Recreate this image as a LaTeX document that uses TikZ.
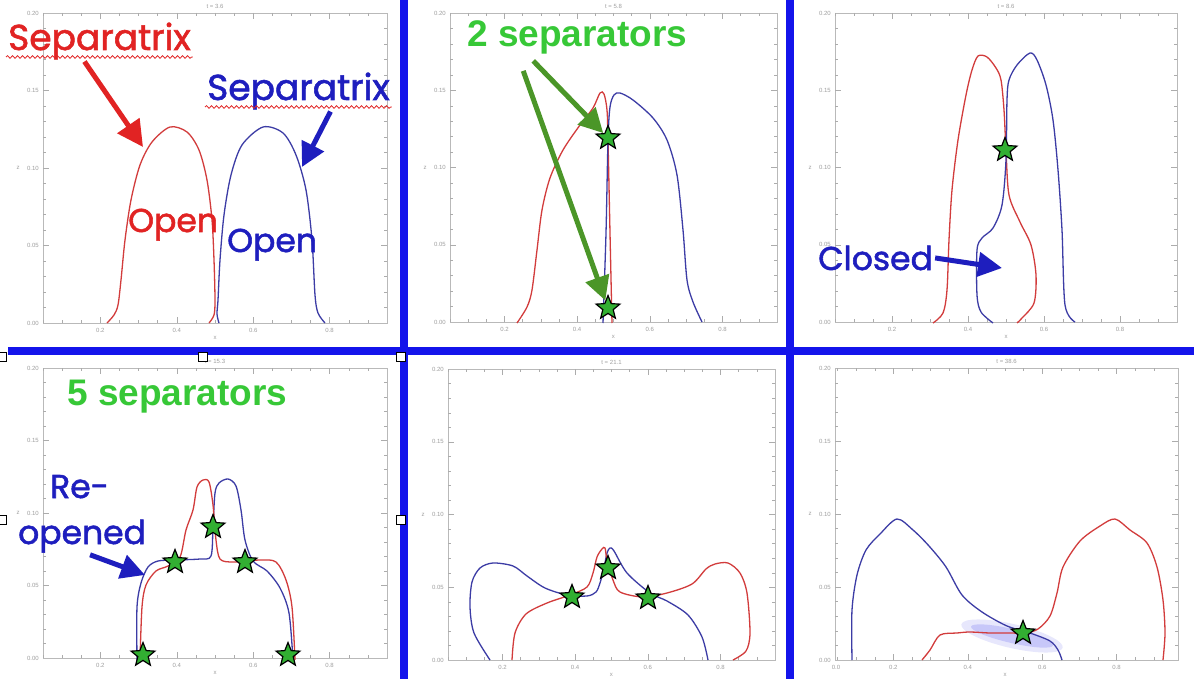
\documentclass[tikz,border=0pt]{standalone}
\usepackage{fontspec}
\setmainfont{Liberation Sans}
\newfontfamily\comicfont{Poppins}[UprightFeatures={FakeBold=1.6}]
\usetikzlibrary{arrows.meta,shapes.geometric,decorations.pathmorphing}

\definecolor{lblred}{RGB}{225,35,35}
\definecolor{lblblue}{RGB}{30,30,190}
\definecolor{gridblue}{RGB}{20,20,235}
\definecolor{lblgreen}{RGB}{55,200,55}
\definecolor{arrgreen}{RGB}{75,150,40}
\definecolor{starfill}{RGB}{50,175,50}
\definecolor{curvered}{RGB}{210,60,60}
\definecolor{curveblue}{RGB}{60,60,165}

\begin{document}
\begin{tikzpicture}[x=1pt, y=-1pt, >=latex,
    frame/.style={draw=gray!55, line width=0.6pt},
    tick/.style={draw=gray!65, line width=0.5pt},
    ticklbl/.style={font=\fontsize{6}{6}\selectfont, text=gray!75, inner sep=1pt},
    rcurve/.style={draw=curvered, line width=1.3pt},
    bcurve/.style={draw=curveblue, line width=1.3pt},
    redlbl/.style={font=\comicfont\fontsize{36}{36}\selectfont, text=lblred, inner sep=2pt},
    bluelbl/.style={font=\comicfont\fontsize{33}{33}\selectfont, text=lblblue, inner sep=2pt},
    greenlbl/.style={font=\bfseries\fontsize{37}{37}\selectfont, text=lblgreen, inner sep=2pt},
    squig/.style={draw=lblred, line width=0.8pt, decorate,
                  decoration={snake, segment length=5pt, amplitude=1.3pt}},
    redarr/.style={-{Triangle[length=26pt,width=26pt]}, line width=5pt, draw=lblred},
    bluearr/.style={-{Triangle[length=24pt,width=24pt]}, line width=5pt, draw=lblblue},
    greenarr/.style={-{Triangle[length=24pt,width=24pt]}, line width=5pt, draw=arrgreen},
    sepstar/.style={star, star points=5, star point ratio=2.3, draw=black,
                    fill=starfill, line width=1.2pt, minimum size=25pt, inner sep=0pt},
    handle/.style={draw=black, fill=white, minimum size=9pt, inner sep=0pt, line width=0.8pt}]
    \useasboundingbox (0,0) rectangle (1194,679);
    \clip (0,0) rectangle (1194,679);
    \fill[white] (0,0) rectangle (1194,679);

    \foreach \L/\T/\R/\B/\xo/\xu/\ttl in {43/13/387/323/23.9/382.2/{t = 3.6},
        450/13/777/322/431.8/363.3/{t = 5.8}, 835/13/1177/322/816/380/{t = 8.6},
        43/368/387/658/23.9/382.2/{t = 15.3}, 448/369/775/660/429.8/363.3/{t = 21.1},
        835/368/1178/660/819/372/{t = 38.6}}{
        \pgfmathsetmacro\yu{(\B-\T)/0.2}
        \draw[frame] (\L,\T) rectangle (\R,\B);
        \foreach \i in {1,...,18}{
            \pgfmathsetmacro\px{\xo+\i*0.05*\xu}
            \pgfmathsetmacro\len{mod(\i,4)==0 ? 6 : 3}
            \draw[tick] (\px,\B) -- ++(0,-\len) (\px,\T) -- ++(0,\len);
        }
        \foreach \j in {1,...,19}{
            \pgfmathsetmacro\py{\B-\j*0.01*\yu}
            \pgfmathsetmacro\len{mod(\j,5)==0 ? 6 : 3}
            \draw[tick] (\L,\py) -- ++(\len,0) (\R,\py) -- ++(-\len,0);
        }
        \foreach \v in {0.2,0.4,0.6,0.8}
            \node[ticklbl] at (\xo+\v*\xu,\B+7) {\v};
        \foreach \j/\s in {0/0.00,5/0.05,10/0.10,15/0.15,20/0.20}
            \node[ticklbl, anchor=east] at (\L-3,\B-\j*0.01*\yu) {\s};
        \node[ticklbl] at ({(\L+\R)/2},\T-7) {\ttl};
        \node[ticklbl] at (\xo+0.5*\xu,\B+15) {x};
        \node[ticklbl] at (\L-25,\B-0.1*\yu) {z};
    }
    \node[ticklbl] (xz6) at (836,667) {0.0};

    \draw[rcurve] plot[smooth, tension=0.5] coordinates {(107,323) (114,315) (118,305)
        (121,280) (125,240) (131,200) (140,165) (152,142) (170,127) (187,132) (199,150)
        (207,180) (212,220) (214,260) (215,300) (214,315) (209,323)};
    \draw[bcurve] plot[smooth, tension=0.5] coordinates {(219,323) (217,314) (218,300)
        (220,260) (224,215) (231,175) (242,145) (263,127) (283,133) (296,155) (306,190)
        (312,240) (315,295) (318,313) (325,323)};

    \draw[rcurve] plot[smooth, tension=0.5] coordinates {(517,323) (527,307) (532,290)
        (537,250) (542,210) (550,178) (563,150) (580,125) (593,108) (600,93) (604,94)
        (607,110) (608,140) (610,233) (612,323)};
    \draw[bcurve] plot[smooth, tension=0.5] coordinates {(603,323) (606,233) (608,140)
        (610,107) (614,95) (620,93) (633,100) (653,118) (667,140) (677,175) (683,230)
        (687,280) (693,302) (702,322)};

    \draw[rcurve] plot[smooth, tension=0.5] coordinates {(933,323) (943,313) (947,290)
        (949,240) (952,190) (958,140) (966,95) (972,70) (978,56) (987,57) (996,68)
        (1001,80) (1004,110) (1006,150) (1009,195) (1020,222) (1031,245) (1036,275)
        (1034,303) (1022,318) (1017,323)};
    \draw[bcurve] plot[smooth, tension=0.5] coordinates {(993,323) (981,312) (977,295)
        (977,250) (982,238) (993,228) (1002,205) (1006,160) (1007,100) (1009,80)
        (1017,65) (1030,53) (1037,60) (1046,85) (1053,120) (1058,170) (1062,230)
        (1065,305) (1075,322)};

    \draw[bcurve] plot[smooth, tension=0.5] coordinates {(137,660) (137,607) (141,583)
        (148,567) (158,561) (175,560) (200,559) (211,556) (213,527) (215,493) (219,483)
        (228,479) (236,486) (241,510) (245,540) (253,561) (267,571) (280,588) (289,613)
        (293,660)};
    \draw[rcurve] plot[smooth, tension=0.5] coordinates {(140,660) (142,607) (146,585)
        (156,571) (168,566) (180,557) (186,530) (193,510) (197,487) (203,480) (209,482)
        (213,505) (216,540) (220,559) (233,562) (260,560) (276,562) (286,580) (292,607)
        (295,660)};

    \draw[bcurve] plot[smooth, tension=0.5] coordinates {(490,660) (474,633) (470,607)
        (472,582) (480,568) (493,563) (513,566) (527,576) (545,588) (567,595) (587,596)
        (596,592) (600,583) (604,568) (607,553) (610,548) (614,551) (627,573) (650,593)
        (667,601) (688,615) (702,637) (708,660)};
    \draw[rcurve] plot[smooth, tension=0.5] coordinates {(512,660) (515,633) (526,614)
        (547,603) (570,595) (587,587) (593,573) (597,557) (602,549) (605,548) (607,560)
        (613,580) (620,592) (643,597) (667,593) (692,584) (706,569) (715,564) (728,563)
        (740,573) (747,593) (750,633) (746,651) (733,660)};

    \begin{scope}[shift={(1012,636)}, rotate=-13]
        \fill[gridblue, opacity=0.10] (0,0) ellipse (52pt and 12pt);
        \fill[gridblue, opacity=0.15] (0,0) ellipse (42pt and 7pt);
    \end{scope}
    \draw[bcurve] plot[smooth, tension=0.5] coordinates {(852,660) (852,610) (857,575)
        (866,550) (880,534) (897,519) (913,530) (929,546) (946,567) (962,595) (982,612)
        (1007,626) (1030,633) (1050,641) (1058,650) (1062,660)};
    \draw[rcurve] plot[smooth, tension=0.5] coordinates {(922,660) (930,650) (940,635)
        (957,633) (970,632) (990,633) (1010,633) (1025,633) (1038,629) (1050,616)
        (1057,593) (1063,567) (1080,541) (1100,526) (1115,519) (1130,530) (1147,543)
        (1157,567) (1163,600) (1165,633) (1163,660)};

    \fill[gridblue] (400,0) rectangle (408,679);
    \fill[gridblue] (786,0) rectangle (794,679);
    \fill[gridblue] (8,347) rectangle (1194,355);

    \node[redlbl, anchor=base west] (sepR) at (6,50) {Separatrix};
    \draw[squig] ([yshift=-7pt]sepR.base west) -- ([yshift=-7pt]sepR.base east);
    \node[redlbl, text=lblblue, anchor=base west] (sepB) at (205,100) {Separatrix};
    \draw[squig] ([yshift=-7pt]sepB.base west) -- ([yshift=-7pt]sepB.base east);
    \node[bluelbl, text=lblred, anchor=base west] (openR) at (126,232) {Open};
    \node[bluelbl, anchor=base west] (openB) at (225,252) {Open};
    \coordinate (redtip) at (143,147);
    \coordinate (bluetip) at (302,167);
    \draw[redarr] ([xshift=-15pt]sepR.south) -- (redtip);
    \draw[bluearr] ([xshift=32pt]sepB.south) -- (bluetip);

    \node[greenlbl, anchor=base west] (sep2) at (465,47) {2 separators};
    \node[sepstar] (s1) at (608,138) {};
    \node[sepstar] (s2) at (608,308) {};
    \draw[greenarr] ([xshift=-44pt,yshift=-4pt]sep2.south) -- (s1);
    \draw[greenarr] ([xshift=-54pt,yshift=-14pt]sep2.south) -- (s2);

    \node[sepstar] (s3) at (1005,150) {};
    \node[bluelbl, anchor=base west] (closed) at (816,270) {Closed};
    \coordinate (closedtip) at (1002,268);
    \draw[bluearr] (closed.east) -- (closedtip);

    \node[greenlbl, anchor=base west] (sep5) at (65,405) {5 separators};
    \node[bluelbl, anchor=base west] (re) at (48,498) {Re-};
    \node[bluelbl, anchor=base west] (opened) at (16,544) {opened};
    \coordinate (reopentip) at (145,575);
    \draw[bluearr] ([xshift=8pt]opened.south) -- (reopentip);
    \node[sepstar] (s4) at (143,655) {};
    \node[sepstar] (s5) at (175,562) {};
    \node[sepstar] (s6) at (213,527) {};
    \node[sepstar] (s7) at (245,562) {};
    \node[sepstar] (s8) at (288,655) {};

    \node[sepstar] (s9) at (572,597) {};
    \node[sepstar] (s10) at (608,568) {};
    \node[sepstar] (s11) at (648,598) {};

    \node[sepstar] (s12) at (1023,633) {};

    \node[handle] (h1) at (203,357) {};
    \node[handle] (h2) at (401,357) {};
    \node[handle] (h3) at (401,520) {};
    \node[handle] (h4) at (2,357) {};
    \node[handle] (h5) at (2,520) {};
\end{tikzpicture}
\end{document}
